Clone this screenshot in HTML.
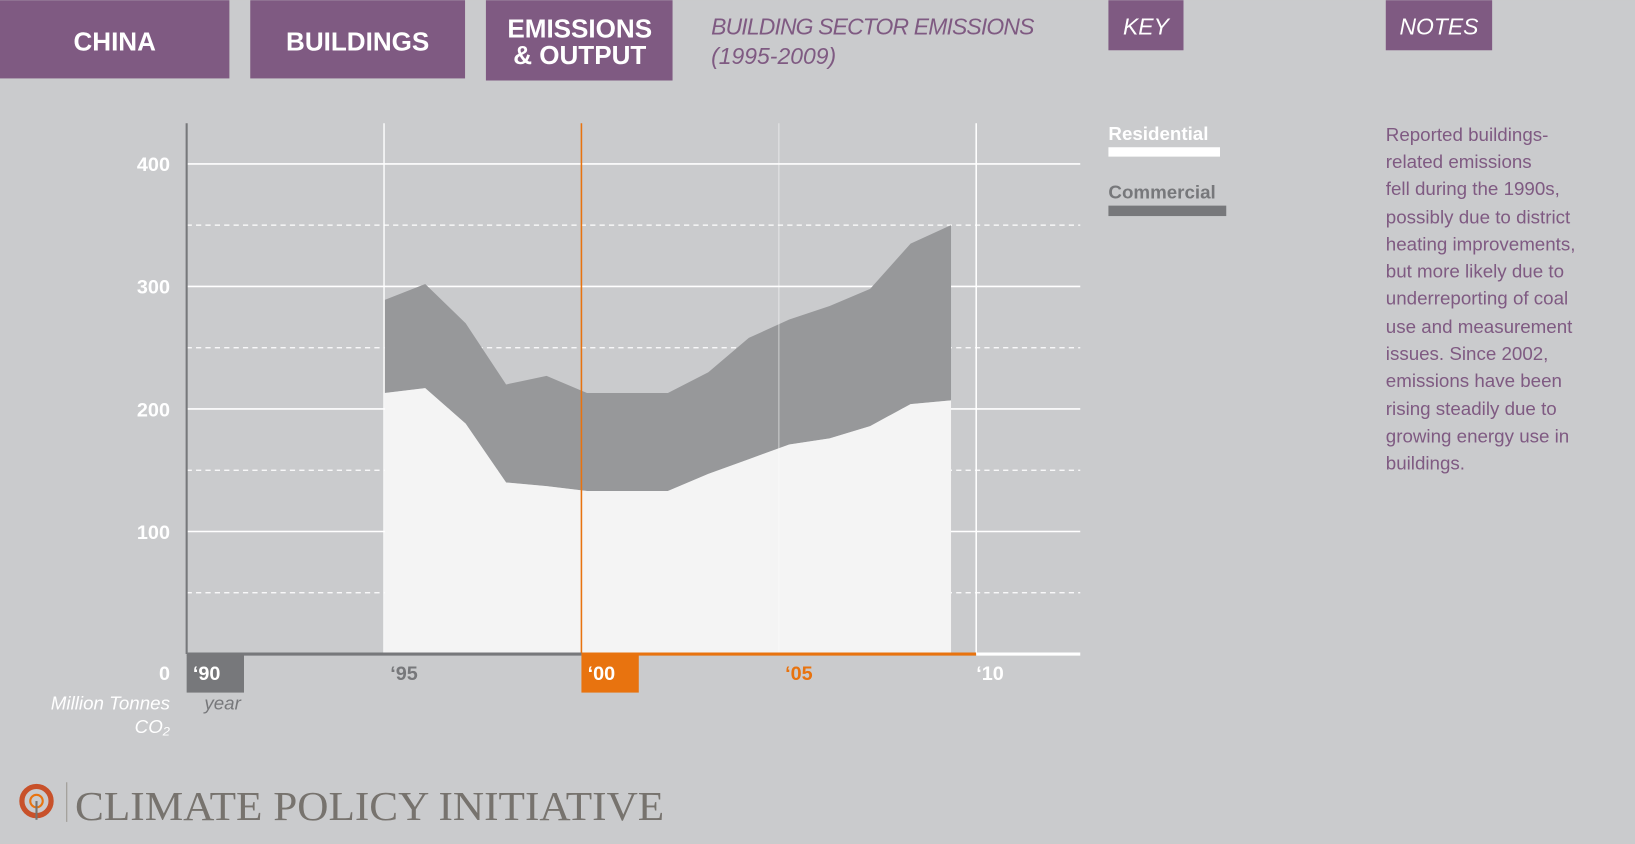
<!DOCTYPE html>
<html><head><meta charset="utf-8"><style>
html,body{margin:0;padding:0;background:#cacbcd;}
svg{display:block;}
.nar{font-family:"Liberation Sans Narrow","Liberation Sans",sans-serif;}
</style></head><body>
<svg id="chart" width="1635" height="844" viewBox="0 0 1568 809" xmlns="http://www.w3.org/2000/svg">
<rect width="1568" height="809" fill="#cacbcd"/>
<g class="nar" font-weight="bold" fill="#fff" text-anchor="middle">
 <rect x="0" y="0" width="220" height="75" fill="#7f5a82"/>
 <text x="110" y="48" font-size="25" fill="#fff">CHINA</text>
 <rect x="240" y="0" width="206" height="75" fill="#7f5a82"/>
 <text x="343" y="48" font-size="25" fill="#fff">BUILDINGS</text>
 <rect x="466" y="0" width="179" height="77" fill="#7f5a82"/>
 <text x="556" y="36" font-size="25" fill="#fff">EMISSIONS</text>
 <text x="556" y="61" font-size="25" fill="#fff">&amp; OUTPUT</text>
 <rect x="1063" y="0" width="72" height="48" fill="#7f5a82"/>
 <text x="1099" y="33" font-size="22" font-weight="normal" font-style="italic" fill="#fff">KEY</text>
 <rect x="1329" y="0" width="102" height="48" fill="#7f5a82"/>
 <text x="1380" y="33" font-size="22" font-weight="normal" font-style="italic" fill="#fff">NOTES</text>
</g>
<g class="nar" font-style="italic" fill="#7f5a82" font-size="22">
 <text x="682" y="33" textLength="310">BUILDING SECTOR EMISSIONS</text>
 <text x="682" y="61">(1995-2009)</text>
</g>
<g id="grid"></g>
<g id="areas"></g>
<g id="vlines"></g>
<g id="axes"></g>
<g class="nar" font-style="italic" fill="#fff" font-size="18">
 <text x="163" y="680" text-anchor="end">Million Tonnes</text>
 <text x="163" y="703" text-anchor="end">CO₂</text>
 <text x="196" y="680" fill="#77787b">year</text>
</g>
<g class="nar" font-weight="bold" font-size="18">
 <text x="1063" y="134" fill="#fff">Residential</text>
 <rect x="1063" y="141" width="107" height="9" fill="#fff"/>
 <text x="1063" y="190" fill="#77787b">Commercial</text>
 <rect x="1063" y="197" width="113" height="10" fill="#77787b"/>
</g>
<g class="nar" fill="#7f5a82" font-size="18">
 <text x="1329" y="135">Reported buildings-</text>
 <text x="1329" y="161">related emissions</text>
 <text x="1329" y="187">fell during the 1990s,</text>
 <text x="1329" y="214">possibly due to district</text>
 <text x="1329" y="240">heating improvements,</text>
 <text x="1329" y="266">but more likely due to</text>
 <text x="1329" y="292">underreporting of coal</text>
 <text x="1329" y="319">use and measurement</text>
 <text x="1329" y="345">issues. Since 2002,</text>
 <text x="1329" y="371">emissions have been</text>
 <text x="1329" y="398">rising steadily due to</text>
 <text x="1329" y="424">growing energy use in</text>
 <text x="1329" y="450">buildings.</text>
</g>
<g>
 <circle cx="35" cy="768" r="14" fill="none" stroke="#c8512a" stroke-width="5"/>
 <circle cx="35" cy="768" r="6" fill="none" stroke="#e8730f" stroke-width="2"/>
 <line x1="35" y1="768" x2="35" y2="786" stroke="#77736e" stroke-width="2"/>
 <line x1="64" y1="750" x2="64" y2="788" stroke="#9a9690" stroke-width="1"/>
 <text x="72" y="786" font-family="'Liberation Serif',serif" font-size="40" fill="#77736e" textLength="565" lengthAdjust="spacingAndGlyphs">CLIMATE POLICY INITIATIVE</text>
</g>
</svg>
<script>
const years = [1995,1996,1997,1998,1999,2000,2001,2002,2003,2004,2005,2006,2007,2008,2009];
const residential = [213,217,188,140,137,133,133,133,147,159,171,176,186,204,207];
const commercial = [76,85,82,80,90,80,80,80,83,99,102,108,112,131,143];
const yTicks = [100,200,300,400];
const yDashed = [50,150,250,350];
const xTickYears = [1990,1995,2000,2005,2010];
const xTickLabels = ["‘90","‘95","‘00","‘05","‘10"];

const NS="http://www.w3.org/2000/svg";
const y0=627, pxPerUnit=1.175;
function yS(v){return y0-v*pxPerUnit;}
function xAxis(yr){return 179+(yr-1990)*37.86;}
function xData(yr){return 369+(yr-1995)*38.79;}
function mk(tag,attrs,parent){const e=document.createElementNS(NS,tag);for(const k in attrs)e.setAttribute(k,attrs[k]);parent.appendChild(e);return e;}
const gridG=document.getElementById('grid'),areasG=document.getElementById('areas'),vlG=document.getElementById('vlines'),axesG=document.getElementById('axes');
yTicks.forEach(v=>{
 const l=mk('line',{x1:179,x2:1036,y1:yS(v),y2:yS(v),stroke:'#fff','stroke-width':1.5},gridG);
 
 
 const t=mk('text',{x:163,y:yS(v)+7,'text-anchor':'end','font-size':19,'font-weight':'bold',fill:'#fff','font-family':'Liberation Sans Narrow,Liberation Sans,sans-serif'},gridG);
 t.textContent=v;
 
 
});
yDashed.forEach(v=>{
 const l=mk('line',{x1:179,x2:1036,y1:yS(v),y2:yS(v),stroke:'#fff','stroke-width':1.2,'stroke-dasharray':'5,4'},gridG);
 
 
});
const topPts=[],resPts=[];
years.forEach((yr,i)=>{topPts.push([xData(yr),yS(residential[i]+commercial[i])]);resPts.push([xData(yr),yS(residential[i])]);});
const lastX=xData(years[years.length-1]),firstX=xData(years[0]);
const dC='M'+resPts.map(p=>p.join(',')).join(' L')+' L'+topPts.slice().reverse().map(p=>p.join(',')).join(' L')+'Z';
const cArea=mk('path',{d:dC,fill:'#97989a'},areasG);


const dR='M'+firstX+','+y0+' L'+resPts.map(p=>p.join(',')).join(' L')+' L'+lastX+','+y0+'Z';
const rArea=mk('path',{d:dR,fill:'#f4f4f4'},areasG);


[[1995,'#fff',0.9],[2005,'#fff',0.35],[2010,'#fff',1],[2000,'#e8730f',1]].forEach(([yr,col,op])=>{
 const l=mk('line',{x1:xAxis(yr),x2:xAxis(yr),y1:118,y2:y0,stroke:col,'stroke-width':1.5,opacity:op},vlG);
 
 
});
let ax=mk('line',{x1:179,x2:179,y1:118,y2:y0,stroke:'#77787b','stroke-width':2},axesG);


ax=mk('line',{x1:179,x2:xAxis(2000),y1:y0,y2:y0,stroke:'#77787b','stroke-width':3},axesG);


ax=mk('line',{x1:xAxis(2000),x2:xAxis(2010),y1:y0,y2:y0,stroke:'#e8730f','stroke-width':3},axesG);


ax=mk('line',{x1:xAxis(2010),x2:1036,y1:y0,y2:y0,stroke:'#fff','stroke-width':3},axesG);


const zt=mk('text',{x:163,y:652,'text-anchor':'end','font-size':19,'font-weight':'bold',fill:'#fff','font-family':'Liberation Sans Narrow,Liberation Sans,sans-serif'},axesG);
zt.textContent='0';


xTickYears.forEach((yr,i)=>{
 const x=xAxis(yr);
 let fill='#77787b';
 if(yr===1990){const b=mk('rect',{x:x,y:628,width:55,height:36,fill:'#77787b'},axesG);fill='#fff';}
 if(yr===2000){const b=mk('rect',{x:x,y:628,width:55,height:36,fill:'#e8730f'},axesG);fill='#fff';}
 if(yr===2005)fill='#e8730f';
 if(yr===2010)fill='#fff';
 const t=mk('text',{x:x+(yr===2010?0:6),y:652,'font-size':19,'font-weight':'bold',fill:fill,'font-family':'Liberation Sans Narrow,Liberation Sans,sans-serif'},axesG);
 t.textContent=xTickLabels[i];
 
 
});
</script>
</body></html>
